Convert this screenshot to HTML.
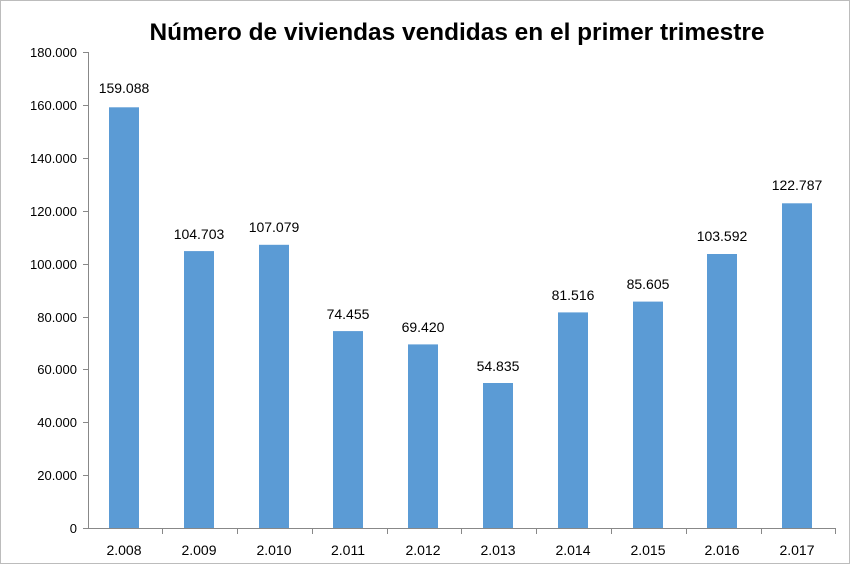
<!DOCTYPE html>
<html><head><meta charset="utf-8"><style>
html,body{margin:0;padding:0;background:#fff}
svg{display:block}
text{font-family:"Liberation Sans",sans-serif}
</style></head><body>
<svg width="850" height="564" xmlns="http://www.w3.org/2000/svg">
<rect x="0.5" y="0.5" width="849" height="563" fill="#fff" stroke="#bcbcbc"/>
<text x="457" y="40" font-size="24" font-weight="bold" text-anchor="middle" fill="#000" textLength="615" lengthAdjust="spacingAndGlyphs">Número de viviendas vendidas en el primer trimestre</text>
<g stroke="#888" stroke-width="1">
<line x1="88.5" y1="52" x2="88.5" y2="529"/>
<line x1="83" y1="528.5" x2="836" y2="528.5"/>
<line x1="83" y1="52.5" x2="88" y2="52.5"/>
<line x1="83" y1="105.5" x2="88" y2="105.5"/>
<line x1="83" y1="158.5" x2="88" y2="158.5"/>
<line x1="83" y1="211.5" x2="88" y2="211.5"/>
<line x1="83" y1="264.5" x2="88" y2="264.5"/>
<line x1="83" y1="317.5" x2="88" y2="317.5"/>
<line x1="83" y1="369.5" x2="88" y2="369.5"/>
<line x1="83" y1="422.5" x2="88" y2="422.5"/>
<line x1="83" y1="475.5" x2="88" y2="475.5"/>
<line x1="162.5" y1="528" x2="162.5" y2="534"/>
<line x1="237.5" y1="528" x2="237.5" y2="534"/>
<line x1="312.5" y1="528" x2="312.5" y2="534"/>
<line x1="387.5" y1="528" x2="387.5" y2="534"/>
<line x1="461.5" y1="528" x2="461.5" y2="534"/>
<line x1="536.5" y1="528" x2="536.5" y2="534"/>
<line x1="611.5" y1="528" x2="611.5" y2="534"/>
<line x1="686.5" y1="528" x2="686.5" y2="534"/>
<line x1="761.5" y1="528" x2="761.5" y2="534"/>
<line x1="835.5" y1="528" x2="835.5" y2="534"/>
</g>
<g font-size="13" fill="#000" text-anchor="end">
<text x="77" y="57">180.000</text>
<text x="77" y="110">160.000</text>
<text x="77" y="163">140.000</text>
<text x="77" y="216">120.000</text>
<text x="77" y="269">100.000</text>
<text x="77" y="322">80.000</text>
<text x="77" y="374">60.000</text>
<text x="77" y="427">40.000</text>
<text x="77" y="480">20.000</text>
<text x="77" y="533">0</text>
</g>
<g fill="#5b9bd5">
<rect x="109" y="107.3" width="30" height="420.7"/>
<rect x="184" y="251.1" width="30" height="276.9"/>
<rect x="259" y="244.8" width="30" height="283.2"/>
<rect x="333" y="331.1" width="30" height="196.9"/>
<rect x="408" y="344.4" width="30" height="183.6"/>
<rect x="483" y="383.0" width="30" height="145.0"/>
<rect x="558" y="312.4" width="30" height="215.6"/>
<rect x="633" y="301.6" width="30" height="226.4"/>
<rect x="707" y="254.0" width="30" height="274.0"/>
<rect x="782" y="203.3" width="30" height="324.7"/>
</g>
<g font-size="14" fill="#000" text-anchor="middle">
<text x="124" y="93">159.088</text>
<text x="199" y="239">104.703</text>
<text x="274" y="232">107.079</text>
<text x="348" y="319">74.455</text>
<text x="423" y="332">69.420</text>
<text x="498" y="371">54.835</text>
<text x="573" y="300">81.516</text>
<text x="648" y="289">85.605</text>
<text x="722" y="241">103.592</text>
<text x="797" y="190">122.787</text>
</g>
<g font-size="14" fill="#000" text-anchor="middle">
<text x="124" y="555">2.008</text>
<text x="199" y="555">2.009</text>
<text x="274" y="555">2.010</text>
<text x="348" y="555">2.011</text>
<text x="423" y="555">2.012</text>
<text x="498" y="555">2.013</text>
<text x="573" y="555">2.014</text>
<text x="648" y="555">2.015</text>
<text x="722" y="555">2.016</text>
<text x="797" y="555">2.017</text>
</g>
</svg>
</body></html>
